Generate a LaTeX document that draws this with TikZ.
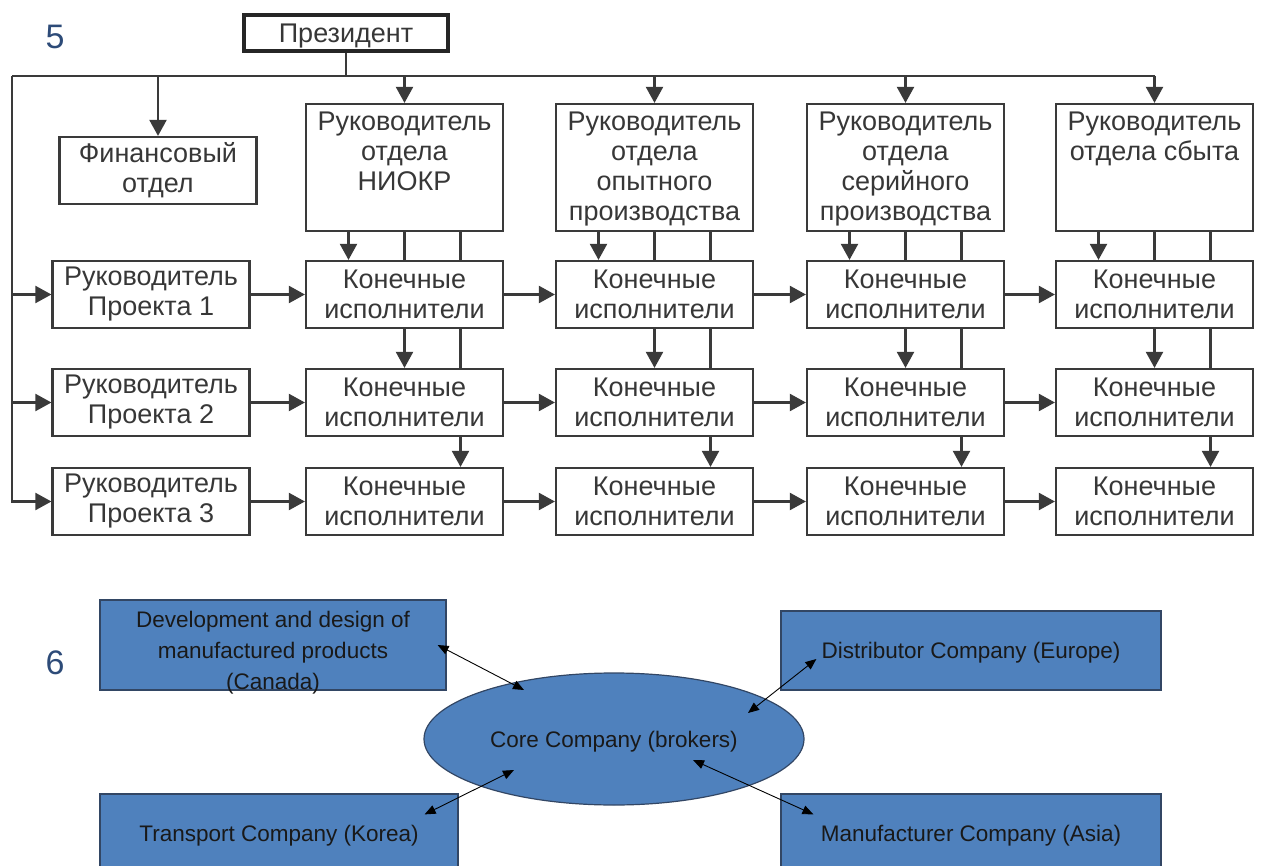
\documentclass[tikz,border=0pt]{standalone}
\usepackage{fontspec}
\setmainfont{Liberation Sans}
\usetikzlibrary{arrows.meta,calc,shapes.geometric}

\definecolor{ink}{RGB}{55,55,55}
\definecolor{frame}{RGB}{58,58,58}
\definecolor{numblue}{RGB}{45,75,120}
\definecolor{office}{RGB}{79,129,189}
\definecolor{officeedge}{RGB}{50,70,100}

% lower a one-line label inside its frame without changing the frame
\newcommand{\lowered}[2]{\raisebox{-#1}[0.75em][0.2em]{#2}}

\tikzset{
  box/.style={draw=frame, line width=2.2pt, minimum width=197pt, minimum height=67pt,
    inner sep=0pt, align=center, text=ink, font=\fontsize{27}{30}\selectfont},
  headbox/.style={box, minimum height=127pt},
  headtext/.style={anchor=north, inner sep=0pt, align=center, text=ink,
    font=\fontsize{27}{30}\selectfont},
  link/.style={draw=frame, line width=2.2pt},
  arr/.style={link, -{Triangle[width=17pt,length=16pt]}},
  obox/.style={draw=officeedge, fill=office, line width=1.2pt, inner sep=0pt,
    align=center, text=black!90, font=\fontsize{22.5}{31}\selectfont},
  otext/.style={inner sep=0pt, align=center, text=black!90, font=\fontsize{22.5}{31}\selectfont},
  dbl/.style={black, line width=0.9pt,
    {Triangle[width=9pt,length=11pt]}-{Triangle[width=9pt,length=11pt]}},
  num/.style={text=numblue, font=\fontsize{34}{40}\selectfont, inner sep=0pt}
}

\begin{document}
\begin{tikzpicture}[x=1pt, y=-1pt]
\useasboundingbox (0,0) rectangle (1263,866);
\clip (0,0) rectangle (1263,866);

% ---------- numbering ----------
\node[num] (n5) at (55,37) {5};
\node[num] (n6) at (55,663) {6};

% ---------- organisation chart ----------
\node[draw=black!85, line width=3.6pt, minimum width=204pt, minimum height=36pt,
      inner sep=0pt, text=ink, font=\fontsize{27}{30}\selectfont] (pres) at (346,33) {\lowered{2pt}{Президент}};

\node[box] (fin) at (158,170.5) {Финансовый\\отдел};

\node[headbox] (h1) at (404.5,167.5) {};
\node[headbox] (h2) at (654.5,167.5) {};
\node[headbox] (h3) at (905.5,167.5) {};
\node[headbox] (h4) at (1154.5,167.5) {};
\node[headtext] (t1) at ([yshift=-9pt]h1.north) {Руководитель\\отдела\\НИОКР};
\node[headtext] (t2) at ([yshift=-9pt]h2.north) {Руководитель\\отдела\\опытного\\производства};
\node[headtext] (t3) at ([yshift=-9pt]h3.north) {Руководитель\\отдела\\серийного\\производства};
\node[headtext] (t4) at ([yshift=-9pt]h4.north) {Руководитель\\отдела сбыта};

\node[box] (p1) at (151,294.5) {Руководитель\\Проекта 1};
\node[box] (p2) at (151,402.5) {Руководитель\\Проекта 2};
\node[box] (p3) at (151,501.5) {Руководитель\\Проекта 3};

\foreach \r/\y in {1/294.5,2/402.5,3/501.5}
  \foreach \c/\x in {1/404.5,2/654.5,3/905.5,4/1154.5}
    \node[box] (e\r\c) at (\x,\y) {Конечные\\исполнители};

% bus from the president
\coordinate (busL) at (12,76);
\draw[link] (pres.south) -- (pres.south |- busL);
\draw[link] (busL) -- (h4.north |- busL);
\draw[arr] (fin.north |- busL) -- (fin.north);
\foreach \c in {1,...,4}
  \draw[arr] (h\c.north |- busL) -- (h\c.north);

% left trunk to project managers
\draw[arr] (busL) |- (p3.west);
\draw[arr] (busL |- p1.west) -- (p1.west);
\draw[arr] (busL |- p2.west) -- (p2.west);

% horizontal chains
\foreach \r in {1,2,3} {
  \draw[arr] (p\r.east) -- (e\r1.west);
  \draw[arr] (e\r1.east) -- (e\r2.west);
  \draw[arr] (e\r2.east) -- (e\r3.west);
  \draw[arr] (e\r3.east) -- (e\r4.west);
}

% vertical links in each department
\foreach \c in {1,...,4} {
  \draw[arr]  ([xshift=-56pt]h\c.south) -- ([xshift=-56pt]e1\c.north);
  \draw[link] (h\c.south) -- (e1\c.north);
  \draw[link] ([xshift=56pt]h\c.south) -- ([xshift=56pt]e1\c.north);
  \draw[arr]  (e1\c.south) -- (e2\c.north);
  \draw[link] ([xshift=56pt]e1\c.south) -- ([xshift=56pt]e2\c.north);
  \draw[arr]  ([xshift=56pt]e2\c.south) -- ([xshift=56pt]e3\c.north);
}

% ---------- network of companies ----------
\node[obox, minimum width=346pt, minimum height=90pt] (dev) at (273,645) {};
\node[otext] (devtxt) at (273,653) {Development and design of\\manufactured products\\(Canada)};
\node[obox, minimum width=380pt, minimum height=79pt] (dist) at (971,650.5) {\lowered{2pt}{Distributor Company (Europe)}};
\node[obox, minimum width=358pt, minimum height=78pt] (trans) at (279,833) {\lowered{2pt}{Transport Company (Korea)}};
\node[obox, minimum width=380pt, minimum height=78pt] (manuf) at (971,833) {\lowered{2pt}{Manufacturer Company (Asia)}};
\node[ellipse, draw=officeedge, fill=office, line width=1.2pt, minimum width=380pt,
      minimum height=132pt, inner sep=0pt, text=black!90,
      font=\fontsize{22.5}{31}\selectfont] (core) at (614,739) {\lowered{2pt}{Core Company (brokers)}};

\draw[dbl] ([xshift=-9pt]dev.east) -- ([shift={(-90,-49)}]core.center);
\draw[dbl] ([shift={(134,-26)}]core.center) -- ([shift={(36,8.5)}]dist.west);
\draw[dbl] ([shift={(-34,21)}]trans.north east) -- ([shift={(-100,31)}]core.center);
\draw[dbl] ([shift={(79,21)}]core.center) -- ([shift={(33,21)}]manuf.north west);
\end{tikzpicture}
\end{document}
